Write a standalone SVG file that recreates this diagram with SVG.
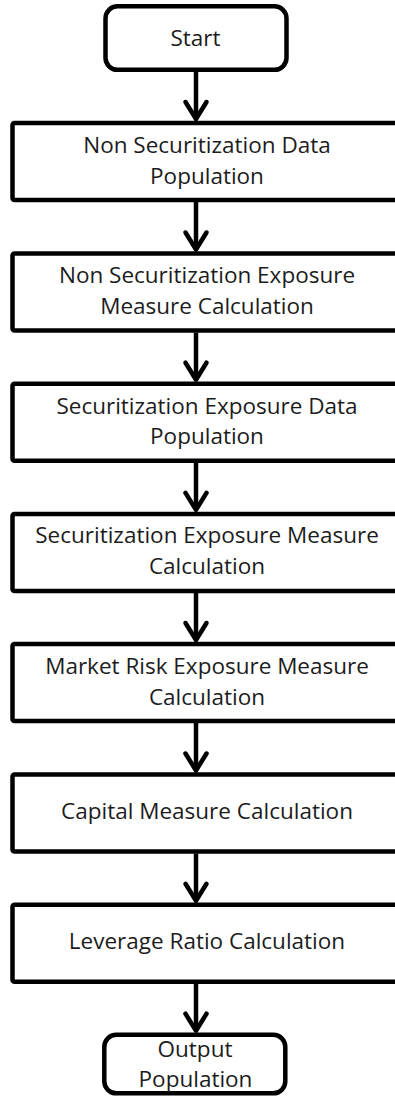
<svg xmlns="http://www.w3.org/2000/svg" width="395" height="1097" viewBox="0 0 395 1097">
<style>
.box{fill:#fff;stroke:#000;stroke-width:4.5;}
.term{fill:#fff;stroke:#000;stroke-width:4.5;}
.lbl{font-family:"Open Sans","Liberation Sans",sans-serif;font-size:22.5px;fill:#1c1c1c;text-anchor:middle;}
.conn{fill:none;stroke:#000;stroke-width:4.5;}
</style>
<defs>
<marker id="chev" markerUnits="userSpaceOnUse" markerWidth="40" markerHeight="40" refX="0" refY="0" orient="auto" overflow="visible">
<path d="M-17,-10.5 L0,0 L-17,10.5" fill="none" stroke="#000" stroke-width="4.5" stroke-linejoin="round" stroke-linecap="round"/>
</marker>
</defs>
<rect width="395" height="1097" fill="#fff"/>
<g id="connectors">
<path class="conn" d="M196 72 V119" marker-end="url(#chev)"/>
<path class="conn" d="M196 202 V249.5" marker-end="url(#chev)"/>
<path class="conn" d="M196 332.5 V379.7" marker-end="url(#chev)"/>
<path class="conn" d="M196 462.7 V509.9" marker-end="url(#chev)"/>
<path class="conn" d="M196 592.9 V640" marker-end="url(#chev)"/>
<path class="conn" d="M196 723 V770.5" marker-end="url(#chev)"/>
<path class="conn" d="M196 853.5 V900.8" marker-end="url(#chev)"/>
<path class="conn" d="M196 983.8 V1030.7" marker-end="url(#chev)"/>
</g>
<g id="start">
<rect class="term" x="105.5" y="6.3" width="181" height="63.5" rx="12"/>
<text class="lbl" x="195.5" y="45.5">Start</text>
</g>
<g id="n1">
<rect class="box" x="12.5" y="123" width="400" height="77" rx="2"/>
<text class="lbl" x="207" y="153.3">Non Securitization Data</text>
<text class="lbl" x="207" y="184.3">Population</text>
</g>
<g id="n2">
<rect class="box" x="12.5" y="253.5" width="400" height="77" rx="2"/>
<text class="lbl" x="207" y="282.8">Non Securitization Exposure</text>
<text class="lbl" x="207" y="313.6">Measure Calculation</text>
</g>
<g id="n3">
<rect class="box" x="12.5" y="383.7" width="400" height="77" rx="2"/>
<text class="lbl" x="207" y="413.8">Securitization Exposure Data</text>
<text class="lbl" x="207" y="443.8">Population</text>
</g>
<g id="n4">
<rect class="box" x="12.5" y="513.9" width="400" height="77" rx="2"/>
<text class="lbl" x="207" y="543">Securitization Exposure Measure</text>
<text class="lbl" x="207" y="573.6">Calculation</text>
</g>
<g id="n5">
<rect class="box" x="12.5" y="644" width="400" height="77" rx="2"/>
<text class="lbl" x="207" y="674.3">Market Risk Exposure Measure</text>
<text class="lbl" x="207" y="705">Calculation</text>
</g>
<g id="n6">
<rect class="box" x="12.5" y="774.5" width="400" height="77" rx="2"/>
<text class="lbl" x="207" y="818.5">Capital Measure Calculation</text>
</g>
<g id="n7">
<rect class="box" x="12.5" y="904.8" width="400" height="77" rx="2"/>
<text class="lbl" x="207" y="949.3">Leverage Ratio Calculation</text>
</g>
<g id="output">
<rect class="term" x="104.3" y="1034.8" width="181" height="58.5" rx="12"/>
<text class="lbl" x="195" y="1056.7">Output</text>
<text class="lbl" x="195.5" y="1086.7">Population</text>
</g>
</svg>
